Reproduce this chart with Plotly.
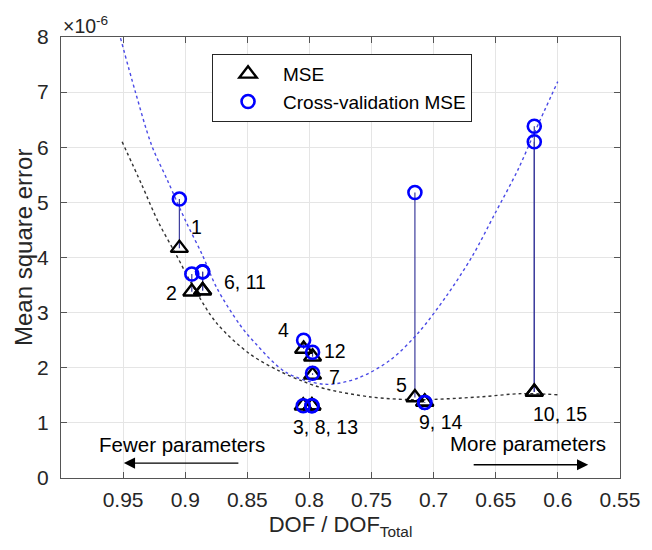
import plotly.graph_objects as go

# ---- data ----
model_ids = [1, 2, 3, 4, 5, 6, 7, 8, 9, 10, 11, 12, 13, 14, 15]
dof_ratio = [0.9047, 0.8947, 0.805, 0.8047, 0.7151, 0.886, 0.7975, 0.798, 0.7072, 0.619,
             0.886, 0.7975, 0.798, 0.7072, 0.619]
mse = [4.17, 3.38, 1.31, 2.34, 1.46, 3.40, 1.87, 1.31, 1.38, 1.56,
       3.40, 2.20, 1.31, 1.38, 1.56]
cv_mse = [5.06, 3.70, 1.31, 2.50, 5.18, 3.74, 1.90, 1.31, 1.37, 6.38,
          3.74, 2.28, 1.31, 1.37, 6.10]

# fitted trend curves
fit_mse_x = [0.9508, 0.935, 0.9218, 0.9073, 0.8928, 0.8744, 0.848, 0.825, 0.806,
             0.7875, 0.7506, 0.7138, 0.6638, 0.6296, 0.6001]
fit_mse_y = [6.10, 5.32, 4.65, 4.05, 3.44, 2.80, 2.25, 1.95, 1.76,
             1.62, 1.47, 1.42, 1.47, 1.53, 1.51]
fit_cv_x = [0.9521, 0.9402, 0.9271, 0.9139, 0.8994, 0.8863, 0.8744, 0.856, 0.843,
            0.8191, 0.7875, 0.7612, 0.7349, 0.7125, 0.6901, 0.669, 0.6506, 0.6322,
            0.619, 0.6001]
fit_cv_y = [7.98, 7.01, 6.04, 5.38, 4.65, 4.05, 3.44, 2.78, 2.43,
            1.92, 1.70, 1.81, 2.14, 2.63, 3.29, 4.02, 4.80, 5.59,
            6.26, 7.19]

# point labels
label_texts = ["1", "2", "6, 11", "4", "12", "7", "3, 8, 13", "5", "9, 14", "10, 15"]
label_x = [0.8908, 0.9113, 0.852, 0.8205, 0.7796, 0.7796, 0.7867, 0.7257, 0.694, 0.598]
label_y = [4.56, 3.35, 3.56, 2.69, 2.31, 1.84, 0.93, 1.69, 1.02, 1.17]

x_ticks = [0.95, 0.9, 0.85, 0.8, 0.75, 0.7, 0.65, 0.6, 0.55]
x_tick_text = ["0.95", "0.9", "0.85", "0.8", "0.75", "0.7", "0.65", "0.6", "0.55"]
y_ticks = [0, 1, 2, 3, 4, 5, 6, 7, 8]

FONT = "Liberation Sans, Arial, sans-serif"
TXT = "#262626"

fig = go.Figure()

# stems joining MSE to cross-validation MSE
stem_x, stem_y = [], []
for xv, a, b in zip(dof_ratio, mse, cv_mse):
    stem_x += [xv, xv, None]
    stem_y += [a, b, None]
fig.add_trace(go.Scatter(x=stem_x, y=stem_y, mode="lines",
                         line=dict(color="#3c3c9c", width=1.2),
                         showlegend=False, hoverinfo="skip"))

# trend curves
fig.add_trace(go.Scatter(x=fit_mse_x, y=fit_mse_y, mode="lines", line_shape="spline",
                         line=dict(color="#333333", width=1.4, dash="3px,3px", smoothing=0.9),
                         showlegend=False, hoverinfo="skip"))
fig.add_trace(go.Scatter(x=fit_cv_x, y=fit_cv_y, mode="lines", line_shape="spline",
                         line=dict(color="#4a4ae6", width=1.4, dash="3px,3px", smoothing=0.9),
                         showlegend=False, hoverinfo="skip"))

# markers
fig.add_trace(go.Scatter(x=dof_ratio, y=mse, mode="markers", name="MSE",
                         marker=dict(symbol="triangle-up-open", size=15, color="black",
                                     line=dict(width=2.4, color="black"))))
fig.add_trace(go.Scatter(x=dof_ratio, y=cv_mse, mode="markers", name="Cross-validation MSE",
                         marker=dict(symbol="circle-open", size=13, color="#0000ff",
                                     line=dict(width=2.6, color="#0000ff"))))

annotations = []
for t, xv, yv in zip(label_texts, label_x, label_y):
    annotations.append(dict(x=xv, y=yv, xref="x", yref="y", text=t, showarrow=False,
                            font=dict(family=FONT, size=19.5, color="black")))

# direction hints
annotations.append(dict(x=0.9028, y=0.60, xref="x", yref="y", text="Fewer parameters",
                        showarrow=False, font=dict(family=FONT, size=20.5, color="black")))
annotations.append(dict(x=0.6243, y=0.63, xref="x", yref="y", text="More parameters",
                        showarrow=False, font=dict(family=FONT, size=20.5, color="black")))
annotations.append(dict(x=0.9494, y=0.27, ax=0.856, ay=0.27, xref="x", yref="y",
                        axref="x", ayref="y", text="", showarrow=True,
                        arrowhead=2, arrowsize=1.6, arrowwidth=1.4, arrowcolor="black"))
annotations.append(dict(x=0.5756, y=0.24, ax=0.669, ay=0.24, xref="x", yref="y",
                        axref="x", ayref="y", text="", showarrow=True,
                        arrowhead=2, arrowsize=1.6, arrowwidth=1.4, arrowcolor="black"))

# exponent label
annotations.append(dict(x=0.0, y=1.0, xref="paper", yref="paper", xanchor="left",
                        yanchor="bottom", xshift=0, yshift=-2, text="×10<sup>-6</sup>",
                        showarrow=False, font=dict(family=FONT, size=19.5, color=TXT)))

# y axis title (placed as rotated text)
annotations.append(dict(x=0.0, y=0.5215, xref="paper", yref="paper", xanchor="center",
                        yanchor="middle", xshift=-38, text="Mean square error",
                        textangle=-90, showarrow=False,
                        font=dict(family=FONT, size=24, color=TXT)))

# page body has an 8px margin: figure sized/margined so the plot box lands at
# x 61..631, y 37..478 of the 652x550 window
fig.update_layout(
    width=644, height=542,
    margin=dict(l=53, r=21, t=29, b=72),
    paper_bgcolor="white", plot_bgcolor="white",
    font=dict(family=FONT, size=21, color=TXT),
    annotations=annotations,
    legend=dict(x=0.2702, y=0.9615, xanchor="left", yanchor="top",
                bgcolor="white", bordercolor="#262626", borderwidth=1,
                font=dict(family=FONT, size=19, color="black"),
                tracegroupgap=0, itemwidth=60),
    xaxis=dict(range=[1.0, 0.55], tickvals=x_ticks, ticktext=x_tick_text,
               tickfont=dict(size=21, color=TXT),
               showgrid=True, gridcolor="#e5e5e5", gridwidth=1,
               ticks="inside", ticklen=6, tickcolor="#555555", ticklabelstandoff=3,
               showline=True, linecolor="#555555", linewidth=1, mirror="ticks",
               zeroline=False, title=dict(text="DOF / DOF<sub>Total</sub>",
                                          font=dict(size=22, color=TXT), standoff=6)),
    yaxis=dict(range=[0, 8], tickvals=y_ticks,
               tickfont=dict(size=21, color=TXT),
               showgrid=True, gridcolor="#e5e5e5", gridwidth=1,
               ticks="inside", ticklen=6, tickcolor="#555555", ticklabelstandoff=7,
               showline=True, linecolor="#555555", linewidth=1, mirror="ticks",
               zeroline=False),
)

fig.write_html("out.html")
